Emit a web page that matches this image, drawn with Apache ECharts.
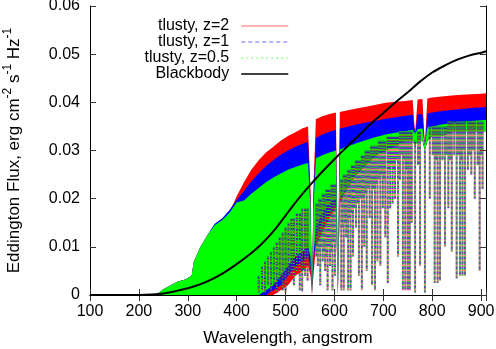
<!DOCTYPE html>
<html>
<head>
<meta charset="utf-8">
<script src="https://cdn.jsdelivr.net/npm/echarts@6/dist/echarts.min.js"></script>
<style>
  html, body { margin: 0; padding: 0; background: #fff; }
  #chart { width: 496px; height: 349px; }
</style>
</head>
<body>
<div id="chart"></div>
<script>
// envelope grid of the synthetic spectra (angstrom)
const wavelengths = [235, 250, 265, 280, 295, 308, 312, 325, 340, 355, 370, 385, 400, 415, 430, 445, 460, 475, 490, 505, 520, 535, 546, 551, 554, 557, 562, 575, 590, 603, 607, 611, 625, 645, 665, 685, 705, 725, 745, 760, 765, 770, 780, 785, 790, 800, 820, 840, 860, 880, 900, 910];

// upper / lower envelopes of each tlusty spectrum
const redTop = [0, 0.0012, 0.002, 0.0028, 0.0032, 0.004, 0.0068, 0.0098, 0.0124, 0.0145, 0.0155, 0.017, 0.0205, 0.0234, 0.026, 0.028, 0.0296, 0.0308, 0.032, 0.033, 0.0338, 0.0346, 0.035, 0.022, 0, 0.022, 0.0365, 0.0371, 0.0376, 0.0379, 0.002, 0.038, 0.0383, 0.0387, 0.0391, 0.0395, 0.0399, 0.0401, 0.0403, 0.0405, 0.0335, 0.0406, 0.0407, 0.031, 0.0408, 0.041, 0.0412, 0.0414, 0.0416, 0.0417, 0.0418, 0.0419];
const redBottom = [0, 0, 0, 0, 0, 0, 0, 0, 0, 0, 0, 0, 0, 0, 0, 0, 0, 0, 0.001, 0.002, 0.004, 0.005, 0.006, 0.004, 0, 0.004, 0.01, 0.013, 0.016, 0.018, 0, 0.019, 0.022, 0.025, 0.027, 0.029, 0.03, 0.031, 0.032, 0.032, 0.031, 0.032, 0.032, 0.03, 0.032, 0.033, 0.033, 0.034, 0.034, 0.034, 0.034, 0.034];

const blueTop = [0, 0.0012, 0.002, 0.0028, 0.0032, 0.004, 0.0068, 0.0098, 0.0124, 0.0148, 0.0159, 0.0176, 0.0198, 0.0216, 0.0236, 0.0253, 0.0268, 0.028, 0.0291, 0.03, 0.0308, 0.0314, 0.0318, 0.02, 0, 0.02, 0.0326, 0.0333, 0.0339, 0.0343, 0.002, 0.0345, 0.0349, 0.0354, 0.0358, 0.0362, 0.0366, 0.0369, 0.0372, 0.0374, 0.0335, 0.0375, 0.0376, 0.031, 0.0377, 0.0379, 0.0382, 0.0384, 0.0386, 0.0388, 0.039, 0.039];
const blueBottom = [0, 0, 0, 0, 0, 0, 0, 0, 0, 0, 0, 0, 0, 0, 0, 0, 0, 0.001, 0.002, 0.004, 0.006, 0.007, 0.008, 0.006, 0, 0.006, 0.012, 0.015, 0.017, 0.019, 0, 0.02, 0.022, 0.025, 0.027, 0.029, 0.03, 0.031, 0.032, 0.032, 0.031, 0.032, 0.032, 0.03, 0.032, 0.033, 0.033, 0.034, 0.034, 0.034, 0.034, 0.034];

const greenTop = [0, 0.0012, 0.002, 0.0028, 0.0032, 0.004, 0.0068, 0.0098, 0.0124, 0.0145, 0.0155, 0.017, 0.0192, 0.0196, 0.021, 0.0222, 0.0234, 0.0244, 0.0252, 0.026, 0.0266, 0.0271, 0.0274, 0.018, 0, 0.018, 0.0284, 0.029, 0.0296, 0.03, 0.002, 0.0302, 0.0308, 0.0315, 0.0322, 0.0328, 0.0333, 0.0337, 0.034, 0.0343, 0.0335, 0.0344, 0.0346, 0.031, 0.0348, 0.035, 0.0354, 0.0357, 0.0359, 0.0361, 0.0363, 0.0364];
const greenBottom = [0, 0, 0, 0, 0, 0, 0, 0, 0, 0, 0, 0, 0, 0, 0, 0, 0.001, 0.002, 0.004, 0.006, 0.008, 0.009, 0.01, 0.008, 0, 0.008, 0.014, 0.017, 0.019, 0.02, 0, 0.02, 0.022, 0.025, 0.027, 0.029, 0.03, 0.031, 0.032, 0.032, 0.031, 0.032, 0.032, 0.03, 0.032, 0.033, 0.033, 0.034, 0.034, 0.034, 0.034, 0.034];

// absorption lines below the continuum band
const lineWl = [445, 452, 458, 464, 470, 476, 482, 488, 494, 500, 506, 512, 517, 523, 529, 534, 540, 545, 563, 566, 569, 571, 574, 576, 579, 581, 584, 586, 589, 591, 594, 596, 599, 601, 614, 617, 619, 622, 624, 628, 631, 633, 636, 638, 641, 644, 647, 650, 653, 656, 659, 661, 664, 666, 669, 672, 675, 677, 680, 683, 686, 688, 691, 694, 697, 699, 702, 704, 709, 712, 714, 717, 719, 721, 724, 727, 730, 734, 737, 740, 743, 745, 748, 750, 752, 754, 758, 765, 771, 775, 785, 795, 801, 805, 808, 811, 814, 816, 821, 826, 829, 833, 837, 840, 845, 850, 854, 857, 860, 862, 865, 867, 873, 877, 880, 884, 887, 893, 897, 900, 903];
const lineTop = [0.004, 0.006, 0.007, 0.008, 0.009, 0.01, 0.011, 0.012, 0.013, 0.014, 0.015, 0.016, 0.016, 0.017, 0.017, 0.018, 0.018, 0.018, 0.019, 0.019, 0.02, 0.02, 0.02, 0.021, 0.021, 0.021, 0.022, 0.022, 0.022, 0.022, 0.023, 0.023, 0.023, 0.023, 0.024, 0.024, 0.025, 0.025, 0.025, 0.026, 0.026, 0.026, 0.027, 0.027, 0.027, 0.028, 0.028, 0.028, 0.028, 0.029, 0.029, 0.029, 0.03, 0.03, 0.03, 0.03, 0.031, 0.031, 0.031, 0.031, 0.031, 0.031, 0.032, 0.032, 0.032, 0.032, 0.032, 0.032, 0.033, 0.033, 0.033, 0.033, 0.033, 0.033, 0.033, 0.033, 0.033, 0.034, 0.034, 0.034, 0.034, 0.034, 0.034, 0.034, 0.034, 0.034, 0.034, 0.032, 0.034, 0.034, 0.03, 0.035, 0.035, 0.035, 0.035, 0.035, 0.035, 0.035, 0.035, 0.035, 0.035, 0.036, 0.036, 0.036, 0.036, 0.036, 0.036, 0.036, 0.036, 0.036, 0.036, 0.036, 0.036, 0.036, 0.036, 0.036, 0.036, 0.036, 0.036, 0.036, 0.036];
const lineDepth = [0.0005, 0.001, 0.0005, 0.002, 0.0008, 0.002, 0.0005, 0.003, 0.001, 0.0005, 0.004, 0.004, 0.002, 0.005, 0.001, 0.0008, 0.004, 0.003, 0.008, 0.006, 0.009, 0.002, 0.01, 0.007, 0.009, 0.005, 0.008, 0.001, 0.01, 0.006, 0.009, 0.001, 0.011, 0.004, 0.001, 0.014, 0.001, 0.015, 0.012, 0.001, 0.016, 0.001, 0.017, 0.008, 0.018, 0.014, 0.019, 0.004, 0.02, 0.001, 0.02, 0.01, 0.021, 0.005, 0.022, 0.016, 0.023, 0.002, 0.022, 0.001, 0.023, 0.007, 0.024, 0.006, 0.025, 0.018, 0.024, 0.012, 0.0025, 0.026, 0.018, 0.027, 0.019, 0.026, 0.02, 0.028, 0.008, 0.024, 0.029, 0.001, 0.028, 0.001, 0.026, 0.001, 0.025, 0.001, 0.015, 0.0005, 0.027, 0.006, 0.0005, 0.02, 0.029, 0.0025, 0.028, 0.0025, 0.029, 0.003, 0.028, 0.01, 0.029, 0.018, 0.028, 0.009, 0.029, 0.0035, 0.029, 0.004, 0.028, 0.004, 0.03, 0.004, 0.026, 0.029, 0.025, 0.03, 0.02, 0.027, 0.005, 0.029, 0.022];

// blackbody curve
const bbWl = [100, 150, 200, 225, 250, 275, 300, 325, 350, 375, 400, 425, 450, 475, 500, 525, 550, 575, 600, 625, 650, 675, 700, 725, 750, 775, 800, 825, 850, 875, 900, 910];
const bbFlux = [0, 0, 0.00002, 0.0001, 0.0003, 0.0008, 0.0014, 0.0022, 0.0033, 0.0047, 0.0064, 0.0083, 0.0105, 0.0132, 0.0165, 0.0198, 0.0228, 0.0256, 0.0282, 0.0307, 0.0331, 0.0356, 0.0378, 0.04, 0.0421, 0.0443, 0.0462, 0.0476, 0.0488, 0.0497, 0.0503, 0.0506];

const FONT = "'Liberation Sans', Arial, sans-serif";

// filled band between lower and upper envelope, one polygon
function bandSeries(id, lower, upper, color) {
  return {
    name: id,
    type: "custom",
    silent: true,
    clip: true,
    data: [[wavelengths[0], upper[0]]],
    renderItem: function (params, api) {
      const pts = [];
      for (let i = 0; i < wavelengths.length; i++) pts.push(api.coord([wavelengths[i], upper[i]]));
      for (let i = wavelengths.length - 1; i >= 0; i--) pts.push(api.coord([wavelengths[i], lower[i]]));
      return { type: "polygon", shape: { points: pts }, style: { fill: color, stroke: null } };
    }
  };
}

function lineSeries(name, color, width, type, opacity) {
  const data = [];
  lineWl.forEach((w, i) => {
    data.push([w, lineTop[i]], [w, lineDepth[i]], [w, "-"]);
  });
  return {
    name: name,
    type: "line",
    symbol: "none",
    silent: true,
    color: color,
    lineStyle: { color: color, width: width, type: type, opacity: opacity },
    data: data
  };
}

const chart = echarts.init(document.getElementById("chart"));

const axisLine = { show: true, lineStyle: { color: "#000", width: 1 } };
const tick = { show: true, inside: true, length: 6, lineStyle: { color: "#333" } };

chart.setOption({
  animation: false,
  backgroundColor: "#fff",
  grid: { left: 90, right: 10, top: 6, bottom: 54, outerBoundsMode: "none" },
  legend: {
    orient: "vertical",
    align: "right",
    right: 207,
    top: 18,
    padding: 0,
    itemWidth: 47,
    itemHeight: 10,
    itemGap: 0,
    selectedMode: false,
    itemStyle: { color: "rgba(0,0,0,0)", borderWidth: 0 },
    textStyle: { fontFamily: FONT, fontSize: 16, color: "#000", padding: [0, 7, 0, 0] },
    data: [
      { name: "tlusty, z=2", lineStyle: { color: "#ff0000", width: 1, type: "solid", opacity: 0.6 } },
      { name: "tlusty, z=1", lineStyle: { color: "#0000ff", width: 1, type: [4, 3], opacity: 0.6 } },
      { name: "tlusty, z=0.5", lineStyle: { color: "#00ff00", width: 1, type: [2, 3], opacity: 0.6 } },
      { name: "Blackbody", lineStyle: { color: "#000", width: 1.5, type: "solid" } }
    ]
  },
  xAxis: [
    {
      type: "value",
      min: 100,
      max: 910,
      interval: 100,
      name: "Wavelength, angstrom",
      nameLocation: "middle",
      nameGap: 35,
      nameTextStyle: { fontFamily: FONT, fontSize: 17, color: "#000" },
      axisLine: axisLine,
      axisTick: tick,
      splitLine: { show: false },
      axisLabel: {
        fontFamily: FONT,
        fontSize: 16,
        color: "#000",
        margin: 9,
        formatter: v => (v % 100 === 0 ? String(v) : "")
      }
    },
    {
      type: "value",
      position: "top",
      min: 100,
      max: 910,
      interval: 100,
      axisLine: axisLine,
      axisTick: tick,
      splitLine: { show: false },
      axisLabel: { show: false }
    }
  ],
  yAxis: [
    {
      type: "value",
      min: 0,
      max: 0.06,
      interval: 0.01,
      name: "Eddington Flux, erg cm{s|-2} s{s|-1} Hz{s|-1}",
      nameLocation: "middle",
      nameRotate: 90,
      nameGap: 64,
      nameTextStyle: {
        fontFamily: FONT,
        fontSize: 17,
        color: "#000",
        lineHeight: 24,
        rich: { s: { fontFamily: FONT, fontSize: 12, color: "#000", lineHeight: 12, verticalAlign: "top" } }
      },
      axisLine: axisLine,
      axisTick: tick,
      splitLine: { show: false },
      axisLabel: {
        fontFamily: FONT,
        fontSize: 16,
        color: "#000",
        margin: 10,
        formatter: v => (v === 0 ? "0" : v.toFixed(2))
      }
    },
    {
      type: "value",
      position: "right",
      min: 0,
      max: 0.06,
      interval: 0.01,
      axisLine: axisLine,
      axisTick: tick,
      splitLine: { show: false },
      axisLabel: { show: false }
    }
  ],
  series: [
    bandSeries("red-band", redBottom, redTop, "#ff0000"),
    lineSeries("tlusty, z=2", "#ff0000", 2, "solid", 0.5),
    bandSeries("blue-band", blueBottom, blueTop, "#0000ff"),
    lineSeries("tlusty, z=1", "#0000ff", 1.8, [3, 2], 0.6),
    bandSeries("green-band", greenBottom, greenTop, "#00ff00"),
    lineSeries("tlusty, z=0.5", "#00ff00", 1.8, [1, 2], 0.8),
    {
      name: "Blackbody",
      type: "line",
      symbol: "none",
      smooth: 0.3,
      color: "#000",
      lineStyle: { color: "#000", width: 2 },
      data: bbWl.map((w, i) => [w, bbFlux[i]])
    }
  ]
});
</script>
</body>
</html>
